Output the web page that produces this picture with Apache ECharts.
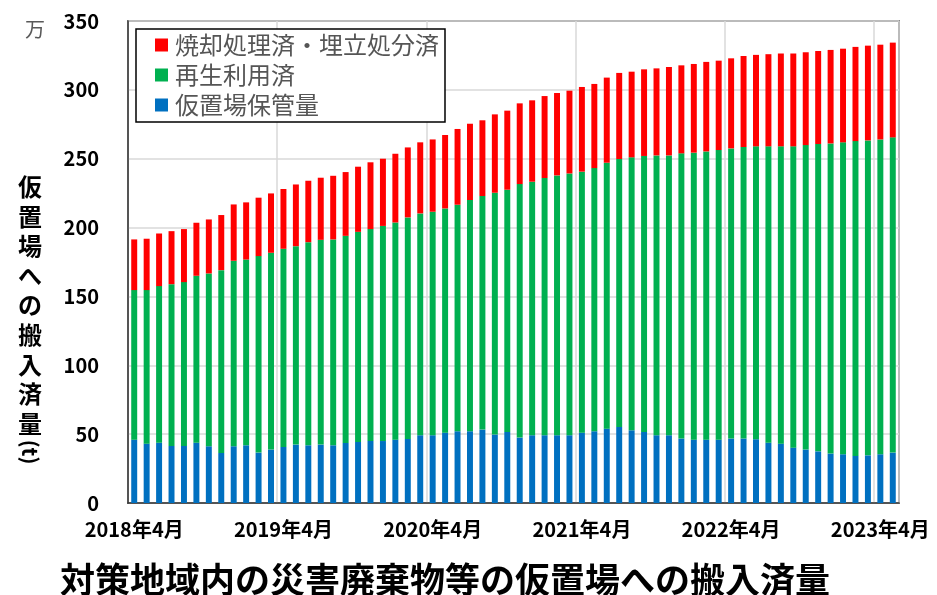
<!DOCTYPE html>
<html><head><meta charset="utf-8">
<script src="https://cdn.jsdelivr.net/npm/echarts@6/dist/echarts.min.js"></script>
<style>html,body{margin:0;padding:0;background:#fff}#c{width:937px;height:595px}</style>
</head><body><div id="c"></div>
<script>
// Months 2018年4月 .. 2023年5月 (62 bars)
const categories = [];
for (let y = 2018, m = 4; categories.length < 62; ) { categories.push(y + '年' + m + '月'); m++; if (m > 12) { m = 1; y++; } }

// 万t
const storedValues = [46.0,43.1,43.8,41.4,41.4,43.8,41.2,36.3,41.2,41.9,36.6,38.8,40.7,42.4,41.9,42.4,41.9,43.6,44.3,45.1,45.0,46.0,46.5,49.2,49.2,51.1,52.1,52.1,53.3,49.7,51.6,47.5,49.2,49.2,49.2,49.2,51.1,52.1,54.0,55.2,52.8,51.6,49.2,49.2,46.8,46.0,46.0,46.0,46.8,46.8,46.3,43.8,43.1,40.2,38.8,37.5,35.9,35.4,34.2,34.6,35.4,36.6];
const recycledValues = [108.6,111.5,113.7,117.5,119.0,121.2,125.5,132.8,134.7,134.9,142.7,142.9,143.9,144.1,147.5,148.7,149.5,150.4,152.6,153.8,156.2,157.7,160.9,161.1,162.3,162.8,164.5,167.9,169.6,175.6,175.9,184.1,184.1,186.8,188.7,190.1,189.5,191.1,193.1,194.6,198.2,200.4,203.2,203.2,207.1,208.4,209.3,210.3,210.7,211.7,212.7,215.2,215.9,218.8,221.1,223.2,225.2,226.5,228.6,228.7,228.6,228.9];
const disposedValues = [36.8,37.3,38.2,38.5,38.5,38.5,39.2,40.0,40.9,41.5,42.4,43.1,43.4,44.8,44.6,45.1,46.2,46.3,47.3,48.5,48.8,49.9,50.8,51.6,52.5,53.3,55.0,55.4,55.0,56.9,57.4,58.6,59.1,59.5,59.8,60.1,61.5,61.1,61.8,62.5,62.2,62.9,63.2,64.2,63.9,64.4,65.0,64.9,65.4,66.1,66.4,66.9,67.4,67.4,67.4,67.5,67.9,68.0,68.4,68.8,68.8,68.8];

const seriesNames = ['焼却処理済・埋立処分済', '再生利用済', '仮置場保管量'];
const yTicks = { min: 0, max: 350, interval: 50 };

const FF = '"Noto Sans CJK JP", "Noto Sans", sans-serif';
const chart = echarts.init(document.getElementById('c'), null, { renderer: 'canvas' });

const option = {
  animation: false,
  backgroundColor: '#fff',
  title: {
    text: '対策地域内の災害廃棄物等の仮置場への搬入済量',
    left: 55, top: 557,
    textStyle: { fontFamily: FF, fontSize: 35, fontWeight: 'bold', color: '#000' }
  },
  grid: { left: 128, right: 38, top: 21, bottom: 92, show: true, borderColor: '#333', borderWidth: 1.5, backgroundColor: 'transparent' },
  legend: {
    data: seriesNames,
    orient: 'vertical',
    left: 136, top: 29,
    padding: [1, 6, 2, 19],
    itemGap: 0,
    itemWidth: 13, itemHeight: 13,
    icon: 'rect',
    backgroundColor: '#fff',
    borderColor: '#000', borderWidth: 1.5,
    textStyle: { fontFamily: FF, fontSize: 24, color: '#555', lineHeight: 30, padding: [0, 0, 0, 2] }
  },
  xAxis: {
    type: 'category',
    data: categories,
    boundaryGap: true,
    axisLine: { show: true, lineStyle: { color: '#333', width: 1.5 } },
    axisTick: { show: false, interval: 11 },
    axisLabel: { interval: 11, margin: 16, fontFamily: FF, fontSize: 20, fontWeight: 'bold', color: '#000' },
    splitLine: { show: true, interval: 11, lineStyle: { color: '#d9d9d9', width: 1.5 } }
  },
  yAxis: {
    type: 'value',
    min: yTicks.min, max: yTicks.max, interval: yTicks.interval,
    axisLine: { show: true, lineStyle: { color: '#333', width: 1.5 } },
    axisTick: { show: false },
    axisLabel: { margin: 29, fontFamily: FF, fontSize: 20, fontWeight: 'bold', color: '#000' },
    splitLine: { show: true, lineStyle: { color: '#d9d9d9', width: 1.5 } }
  },
  graphic: [
    { type: 'text', left: 25, top: 19, style: { text: '万', fontFamily: FF, fontSize: 20, fill: '#595959' } },
    { type: 'text', left: 18, top: 172, style: { text: '仮\n置\n場\nへ\nの\n搬\n入\n済\n量', fontFamily: FF, fontSize: 24, fontWeight: 'bold', fill: '#000', lineHeight: 29.6 } },
    { type: 'text', x: 30, y: 452, rotation: -Math.PI / 2, style: { text: '(t)', fontFamily: FF, fontSize: 21, fontWeight: 'bold', fill: '#000', align: 'center', verticalAlign: 'middle' } }
  ],
  series: [
    { name: seriesNames[2], type: 'bar', stack: 'total', data: storedValues, barWidth: '48%', itemStyle: { color: '#0070C0' } },
    { name: seriesNames[1], type: 'bar', stack: 'total', data: recycledValues, barWidth: '48%', itemStyle: { color: '#00B050' } },
    { name: seriesNames[0], type: 'bar', stack: 'total', data: disposedValues, barWidth: '48%', itemStyle: { color: '#FF0000' } }
  ]
};
chart.setOption(option);
</script></body></html>
